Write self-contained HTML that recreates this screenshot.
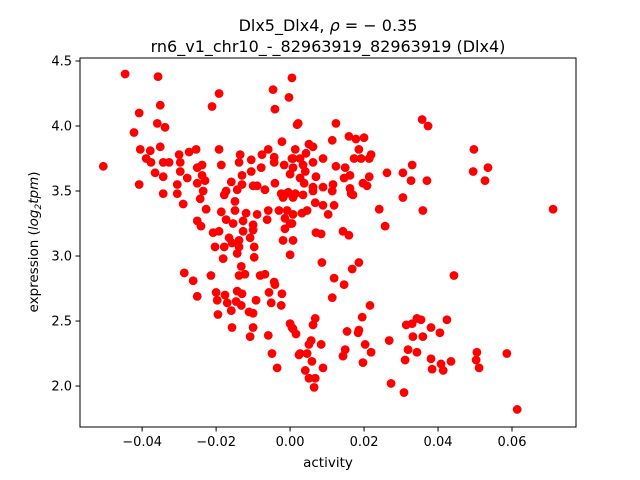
<!DOCTYPE html>
<html><head><meta charset="utf-8"><style>
html,body{margin:0;padding:0;background:#fff;}
svg{display:block;font-family:"DejaVu Sans","Liberation Sans",sans-serif;}
</style></head><body>
<svg id="chart" width="640" height="480" viewBox="0 0 640 480" xmlns="http://www.w3.org/2000/svg">
<rect x="0" y="0" width="640" height="480" fill="#fff"/>
<text x="328" y="31" text-anchor="middle" font-size="16">Dlx5_Dlx4, <tspan font-style="italic">ρ</tspan> = − 0.35</text>
<text x="328" y="52" text-anchor="middle" font-size="16">rn6_v1_chr10_-_82963919_82963919 (Dlx4)</text>
<g id="points"></g>
<g id="axes"></g>
<text x="328" y="467" text-anchor="middle" font-size="13.5">activity</text>
<text transform="translate(38,242) rotate(-90)" text-anchor="middle" font-size="13.5">expression (<tspan font-style="italic">log</tspan><tspan font-style="italic" font-size="9" dy="3">2</tspan><tspan font-style="italic" dy="-3">tpm</tspan>)</text>
</svg>
<script>
const activity = [-0.0446,-0.0357,-0.0192,-0.0211,-0.0046,-0.0003,-0.0041,0.0005,-0.0351,-0.0408,-0.0359,-0.0338,-0.0422,0.0019,-0.0022,-0.0351,-0.0405,-0.0378,-0.0389,-0.0376,-0.0343,-0.0327,-0.0300,-0.0273,-0.0254,-0.0192,0.0014,-0.0505,-0.0297,-0.0297,-0.0365,-0.0343,-0.0278,-0.0251,-0.0238,-0.0238,-0.0230,-0.0251,-0.0408,-0.0305,-0.0186,-0.0135,-0.0138,-0.0105,-0.0076,-0.0059,-0.0043,-0.0043,-0.0078,-0.0105,-0.0130,-0.0159,-0.0130,-0.0143,-0.0173,-0.0178,-0.0100,-0.0089,-0.0068,-0.0041,-0.0016,0.0000,0.0008,-0.0024,-0.0005,-0.0343,-0.0305,-0.0235,-0.0243,-0.0289,-0.0227,-0.0149,-0.0149,-0.0186,-0.0119,-0.0089,-0.0059,-0.0030,-0.0008,0.0008,-0.0173,-0.0154,-0.0127,-0.0100,-0.0062,0.0000,-0.0251,-0.0241,-0.0208,-0.0192,-0.0165,-0.0138,-0.0108,-0.0019,-0.0014,0.0008,-0.0127,-0.0100,
-0.0203,-0.0178,-0.0157,-0.0138,-0.0143,-0.0097,-0.0097,-0.0181,0.0000,-0.0132,-0.0286,-0.0262,-0.0214,-0.0138,-0.0122,-0.0081,-0.0068,-0.0043,-0.0041,-0.0251,-0.0200,-0.0197,-0.0176,-0.0170,-0.0143,-0.0130,-0.0146,-0.0132,-0.0159,-0.0195,-0.0111,-0.0100,-0.0092,-0.0057,-0.0022,-0.0051,-0.0024,-0.0157,-0.0100,-0.0108,-0.0059,0.0000,0.0005,0.0016,-0.0049,0.0024,-0.0035,
0.0022,0.0124,0.0051,0.0062,0.0114,0.0159,0.0178,0.0200,0.0186,0.0219,0.0214,0.0173,0.0192,0.0089,0.0043,0.0005,0.0027,0.0062,0.0035,0.0008,0.0041,0.0027,0.0070,0.0124,0.0149,0.0162,0.0146,0.0116,0.0089,0.0062,0.0038,0.0062,0.0114,0.0162,0.0165,0.0170,0.0197,0.0208,0.0214,0.0014,0.0035,-0.0011,-0.0019,0.0008,0.0068,0.0089,0.0119,0.0103,0.0046,0.0032,-0.0014,0.0005,0.0070,0.0084,0.0143,0.0159,0.0241,0.0257,0.0262,0.0305,0.0330,0.0327,0.0370,0.0305,0.0359,0.0357,0.0373,0.0497,0.0495,0.0535,0.0527,0.0711,
0.0086,0.0186,0.0168,0.0119,0.0146,0.0114,0.0443,0.0216,0.0195,0.0008,0.0062,0.0068,0.0154,0.0186,0.0184,0.0057,0.0051,0.0084,0.0203,0.0219,0.0149,0.0143,0.0027,0.0046,0.0059,0.0089,0.0041,0.0051,0.0068,0.0065,0.0197,0.0268,0.0314,0.0330,0.0343,0.0354,0.0332,0.0359,0.0381,0.0405,0.0424,0.0319,0.0343,0.0311,0.0381,0.0384,0.0408,0.0414,0.0435,0.0505,0.0503,0.0511,0.0586,0.0273,0.0308,0.0614];
const expression = [4.40,4.38,4.25,4.15,4.28,4.22,4.13,4.37,4.16,4.10,4.02,3.99,3.95,4.01,3.88,3.84,3.82,3.81,3.75,3.72,3.72,3.72,3.78,3.80,3.82,3.82,3.82,3.69,3.72,3.65,3.64,3.61,3.60,3.68,3.70,3.62,3.58,3.56,3.55,3.55,3.70,3.78,3.72,3.74,3.78,3.82,3.76,3.72,3.68,3.65,3.62,3.57,3.55,3.51,3.50,3.47,3.54,3.54,3.51,3.56,3.70,3.63,3.75,3.48,3.49,3.48,3.48,3.50,3.44,3.40,3.36,3.42,3.35,3.34,3.33,3.32,3.35,3.35,3.35,3.32,3.28,3.25,3.27,3.24,3.28,3.25,3.27,3.23,3.18,3.19,3.14,3.12,3.14,3.12,3.21,3.12,3.19,3.20,
3.07,3.07,3.10,3.07,3.02,3.07,2.99,2.98,3.01,2.92,2.87,2.81,2.85,2.85,2.86,2.85,2.86,2.80,2.78,2.69,2.72,2.66,2.70,2.64,2.73,2.71,2.65,2.62,2.58,2.55,2.57,2.56,2.66,2.72,2.71,2.64,2.62,2.45,2.45,2.38,2.39,2.48,2.45,2.40,2.25,2.24,2.14,
4.02,4.02,3.86,3.84,3.89,3.92,3.90,3.91,3.82,3.78,3.75,3.75,3.75,3.75,3.79,3.75,3.75,3.72,3.70,3.68,3.65,3.60,3.61,3.69,3.68,3.62,3.60,3.55,3.53,3.53,3.56,3.50,3.50,3.52,3.48,3.47,3.56,3.54,3.61,3.48,3.47,3.48,3.45,3.45,3.41,3.39,3.39,3.32,3.35,3.33,3.29,3.25,3.18,3.17,3.19,3.16,3.36,3.23,3.64,3.64,3.70,3.58,3.58,3.45,3.35,4.05,4.00,3.82,3.65,3.68,3.58,3.36,
2.95,2.95,2.90,2.83,2.78,2.68,2.85,2.62,2.53,2.44,2.47,2.52,2.42,2.43,2.41,2.35,2.32,2.32,2.32,2.26,2.28,2.23,2.25,2.25,2.19,2.14,2.12,2.06,2.06,1.99,2.18,2.35,2.47,2.48,2.52,2.51,2.38,2.38,2.45,2.41,2.51,2.28,2.26,2.20,2.21,2.13,2.17,2.12,2.19,2.26,2.20,2.14,2.25,2.02,1.95,1.82];
const xTicks = [-0.04,-0.02,0.00,0.02,0.04,0.06];
const xTickLabels = ["−0.04","−0.02","0.00","0.02","0.04","0.06"];
const yTicks = [2.0,2.5,3.0,3.5,4.0,4.5];
const yTickLabels = ["2.0","2.5","3.0","3.5","4.0","4.5"];

const PL=80, PR=576, PT=58, PB=427;
const xDom=[-0.0568,0.0773], yDom=[1.685,4.523];
function sx(v){return PL+(v-xDom[0])/(xDom[1]-xDom[0])*(PR-PL);}
function sy(v){return PB-(v-yDom[0])/(yDom[1]-yDom[0])*(PB-PT);}
const NS="http://www.w3.org/2000/svg";
const pts=document.getElementById('points');
const n=Math.min(activity.length,expression.length);
for(let i=0;i<n;i++){
  const c=document.createElementNS(NS,'circle');
  c.setAttribute('cx',sx(activity[i]).toFixed(2));
  c.setAttribute('cy',sy(expression[i]).toFixed(2));
  c.setAttribute('r','4.4');
  c.setAttribute('fill','#ff0000');
  
  
  pts.appendChild(c);
}
const ax=document.getElementById('axes');
const frame=document.createElementNS(NS,'rect');
frame.setAttribute('x',PL);frame.setAttribute('y',PT);
frame.setAttribute('width',PR-PL);frame.setAttribute('height',PB-PT);
frame.setAttribute('fill','none');frame.setAttribute('stroke','#000');frame.setAttribute('stroke-width','1');


ax.appendChild(frame);
xTicks.forEach((t,i)=>{
  const x=sx(t);
  const l=document.createElementNS(NS,'line');
  l.setAttribute('x1',x);l.setAttribute('x2',x);l.setAttribute('y1',PB);l.setAttribute('y2',PB+4.5);
  l.setAttribute('stroke','#000');
  
  
  ax.appendChild(l);
  const tx=document.createElementNS(NS,'text');
  tx.setAttribute('x',x);tx.setAttribute('y',PB+19);tx.setAttribute('text-anchor','middle');tx.setAttribute('font-size','13');
  tx.textContent=xTickLabels[i];
  
  
  ax.appendChild(tx);
});
yTicks.forEach((t,i)=>{
  const y=sy(t);
  const l=document.createElementNS(NS,'line');
  l.setAttribute('x1',PL-4.5);l.setAttribute('x2',PL);l.setAttribute('y1',y);l.setAttribute('y2',y);
  l.setAttribute('stroke','#000');
  
  
  ax.appendChild(l);
  const tx=document.createElementNS(NS,'text');
  tx.setAttribute('x',PL-8);tx.setAttribute('y',y+4.5);tx.setAttribute('text-anchor','end');tx.setAttribute('font-size','13');
  tx.textContent=yTickLabels[i];
  
  
  ax.appendChild(tx);
});
</script>
</body></html>
